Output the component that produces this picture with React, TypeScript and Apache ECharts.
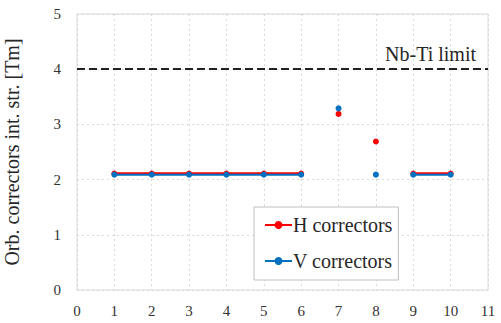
import React, { useEffect, useRef } from "react";
import * as echarts from "echarts";

// Corrector index and integrated strength [Tm]
const hPoints: [number, number | string][] = [
  [1, 2.11], [2, 2.11], [3, 2.11], [4, 2.11], [5, 2.11], [6, 2.11],
  [6.5, "-"], [7, 3.19], [7.5, "-"], [8, 2.69], [8.5, "-"],
  [9, 2.11], [10, 2.11],
];
const vPoints: [number, number | string][] = [
  [1, 2.09], [2, 2.09], [3, 2.09], [4, 2.09], [5, 2.09], [6, 2.09],
  [6.5, "-"], [7, 3.29], [7.5, "-"], [8, 2.09], [8.5, "-"],
  [9, 2.09], [10, 2.09],
];
const nbTiLimit = 4;
const seriesNames = ["H correctors", "V correctors"];

const FONT = "Liberation Serif";

export default function App() {
  const ref = useRef<HTMLDivElement>(null);
  useEffect(() => {
    if (!ref.current) return;
    const chart = echarts.init(ref.current, null, { renderer: "svg" });
    chart.setOption({
      animation: false,
      backgroundColor: "#ffffff",
      grid: {
        left: 77,
        right: 13,
        top: 14,
        bottom: 33,
        outerBoundsMode: "none",
        containLabel: false,
        show: true,
        borderColor: "#d9d9d9",
        borderWidth: 1,
      },
      legend: {
        orient: "vertical",
        left: 254,
        top: 207,
        padding: [8, 6, 9, 10],
        itemGap: 16,
        itemWidth: 27,
        itemHeight: 10,
        borderColor: "#bfbfbf",
        borderWidth: 1,
        borderRadius: 0,
        backgroundColor: "#ffffff",
        textStyle: { fontFamily: FONT, fontSize: 20, color: "#262626", padding: [0, 0, 0, -4] },
        data: seriesNames,
      },
      xAxis: {
        type: "value",
        min: 0,
        max: 11,
        interval: 1,
        axisLine: { show: false },
        axisTick: { show: false },
        axisLabel: { fontFamily: FONT, fontSize: 15, color: "#333", margin: 13 },
        splitLine: { show: true, lineStyle: { color: "#d9d9d9", type: [2, 3] } },
      },
      yAxis: {
        type: "value",
        min: 0,
        max: 5,
        interval: 1,
        name: "Orb. correctors int. str. [Tm]",
        nameLocation: "middle",
        nameGap: 55,
        nameTextStyle: { fontFamily: FONT, fontSize: 20, color: "#262626" },
        axisLine: { show: false },
        axisTick: { show: false },
        axisLabel: { fontFamily: FONT, fontSize: 15, color: "#333", margin: 16 },
        splitLine: { show: true, lineStyle: { color: "#d9d9d9", type: [2, 3] } },
      },
      series: [
        {
          name: seriesNames[0],
          type: "line",
          data: hPoints,
          color: "#ff0000",
          symbol: "circle",
          symbolSize: 6,
          showAllSymbol: true,
          lineStyle: { width: 2.5, color: "#ff0000" },
          markLine: {
            silent: true,
            symbol: "none",
            lineStyle: { type: [8, 4], color: "#222", width: 2 },
            label: {
              position: "insideEndTop",
              formatter: "Nb-Ti limit",
              fontFamily: FONT,
              fontSize: 20,
              color: "#262626",
              distance: [12, 5],
            },
            data: [{ yAxis: nbTiLimit }],
          },
        },
        {
          name: seriesNames[1],
          type: "line",
          data: vPoints,
          color: "#0070c0",
          symbol: "circle",
          symbolSize: 6,
          showAllSymbol: true,
          lineStyle: { width: 2, color: "#0070c0" },
        },
      ],
    });
    return () => chart.dispose();
  }, []);
  return <div ref={ref} style={{ width: 501, height: 323, position: "absolute", left: 0, top: 0 }} />;
}
